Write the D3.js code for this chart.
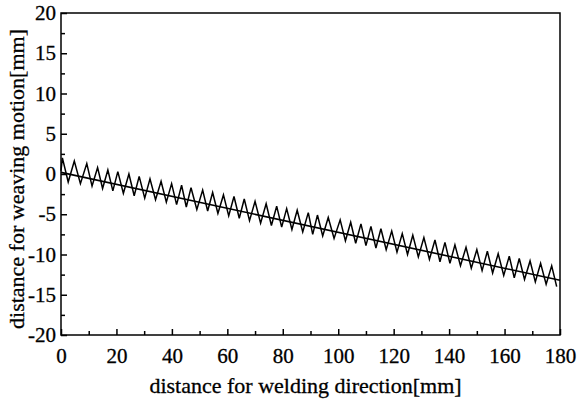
<!DOCTYPE html>
<html>
<head>
<meta charset="utf-8">
<script src="https://cdn.jsdelivr.net/npm/d3@7"></script>
<style>
  html, body { margin: 0; padding: 0; background: #fff; }
  svg { display: block; font-family: "Liberation Serif", "DejaVu Serif", serif; }
</style>
</head>
<body>
<div id="chart"></div>
<script>
"use strict";

// straight reference line (welding direction)
const lineX = [0, 180];
const lineY = [0.2, -13.2];

// weaving zigzag, peaks and troughs (mm)
const peakX = [0.5, 4.8, 9.3, 13.2, 16.9, 20.5, 24.5, 28.2, 32.1, 36.1, 39.9, 43.5, 46.9, 51.1, 54.7, 58.6,
  62.4, 66.1, 70.0, 74.0, 77.8, 81.4, 85.2, 89.2, 92.5, 96.4, 100.7, 104.5, 108.2, 111.8, 115.4, 119.3,
  123.1, 126.9, 130.9, 134.9, 138.5, 142.1, 146.1, 150.0, 153.8, 157.7, 161.7, 165.3, 169.2, 173.0, 177.0];
const peakY = [2.0, 1.6, 1.3, 0.8, 0.5, 0.3, 0.0, -0.3, -0.6, -0.9, -1.2, -1.4, -1.7, -2.0, -2.3, -2.6,
  -2.8, -3.1, -3.4, -3.7, -4.0, -4.3, -4.5, -4.8, -5.1, -5.4, -5.7, -6.0, -6.2, -6.5, -6.8, -7.1,
  -7.4, -7.6, -7.9, -8.2, -8.5, -8.8, -9.1, -9.4, -9.6, -9.9, -10.2, -10.5, -10.8, -11.1, -11.4];
const troughX = [2.6, 7.0, 11.2, 15.0, 18.7, 22.5, 26.4, 30.2, 34.1, 38.0, 41.7, 45.2, 49.0, 52.9, 56.6, 60.5,
  64.3, 68.0, 72.0, 75.9, 79.6, 83.3, 87.2, 90.8, 94.4, 98.5, 102.6, 106.3, 110.0, 113.6, 117.3, 121.2,
  125.0, 128.9, 132.9, 136.7, 140.3, 144.1, 148.0, 151.9, 155.7, 159.7, 163.5, 167.2, 171.1, 175.0, 178.8];
const troughY = [-1.0, -1.2, -1.5, -1.8, -2.1, -2.4, -2.7, -3.0, -3.2, -3.5, -3.8, -4.1, -4.4, -4.6, -4.9, -5.2,
  -5.5, -5.8, -6.1, -6.4, -6.6, -6.9, -7.2, -7.5, -7.7, -8.0, -8.3, -8.6, -8.9, -9.2, -9.4, -9.7,
  -10.0, -10.3, -10.6, -10.9, -11.1, -11.4, -11.7, -12.0, -12.3, -12.6, -12.9, -13.1, -13.4, -13.7, -14.0];
const weaveStart = [0, 0.4];

const xTicks = [0, 20, 40, 60, 80, 100, 120, 140, 160, 180];
const xMinor = [10, 30, 50, 70, 90, 110, 130, 150, 170];
const yTicks = [-20, -15, -10, -5, 0, 5, 10, 15, 20];
const yMinor = [-17.5, -12.5, -7.5, -2.5, 2.5, 7.5, 12.5, 17.5];

const width = 578, height = 406;
const margin = { top: 13, right: 18, bottom: 71, left: 61 };

const svg = d3.select("#chart").append("svg")
  .attr("width", width)
  .attr("height", height);

const x = d3.scaleLinear().domain([0, 180]).range([margin.left, width - margin.right]);
const y = d3.scaleLinear().domain([-20, 20]).range([height - margin.bottom, margin.top]);

// build zigzag vertices: start, then peak/trough alternately
const weave = [weaveStart];
for (let i = 0; i < peakX.length; i++) {
  weave.push([peakX[i], peakY[i]]);
  weave.push([troughX[i], troughY[i]]);
}

const line = d3.line().x(d => x(d[0])).y(d => y(d[1]));

svg.append("path")
  .datum(weave)
  .attr("fill", "none")
  .attr("stroke", "#000")
  .attr("stroke-width", 1.5)
  .attr("d", line);

svg.append("path")
  .datum(lineX.map((v, i) => [v, lineY[i]]))
  .attr("fill", "none")
  .attr("stroke", "#000")
  .attr("stroke-width", 1.6)
  .attr("d", line);

// axes, ticks pointing inward
const x0 = margin.left, x1 = width - margin.right;
const y0 = height - margin.bottom, y1 = margin.top;
const fmt = d => String(d); // plain hyphen minus like the original

svg.append("g").attr("transform", `translate(0,${y0})`)
  .call(d3.axisBottom(x).tickValues(xTicks).tickSize(-6).tickPadding(13).tickFormat(fmt));
svg.append("g").attr("transform", `translate(0,${y0})`)
  .call(d3.axisBottom(x).tickValues(xMinor).tickSize(-4).tickFormat(""));

svg.append("g").attr("transform", `translate(${x0},0)`)
  .call(d3.axisLeft(y).tickValues(yTicks).tickSize(-6).tickPadding(5).tickFormat(fmt));
svg.append("g").attr("transform", `translate(${x0},0)`)
  .call(d3.axisLeft(y).tickValues(yMinor).tickSize(-4).tickFormat(""));

svg.selectAll(".domain").remove();
svg.selectAll(".tick line").attr("stroke", "#000").attr("stroke-width", 1.5);
svg.selectAll(".tick text")
  .attr("fill", "#000")
  .attr("stroke", "#000")
  .attr("stroke-width", 0.3)
  .style("font-family", "'Liberation Serif', serif")
  .style("font-size", "21px");

// frame
svg.append("rect")
  .attr("x", x0).attr("y", y1)
  .attr("width", x1 - x0).attr("height", y0 - y1)
  .attr("fill", "none")
  .attr("stroke", "#000")
  .attr("stroke-width", 1.5);

// axis titles
svg.append("text")
  .attr("x", (x0 + x1) / 2 - 5)
  .attr("y", 393)
  .attr("text-anchor", "middle")
  .attr("stroke", "#000")
  .attr("stroke-width", 0.3)
  .style("font-size", "22px")
  .text("distance for welding direction[mm]");

svg.append("text")
  .attr("transform", `translate(24,${(y0 + y1) / 2 + 5}) rotate(-90)`)
  .attr("text-anchor", "middle")
  .attr("stroke", "#000")
  .attr("stroke-width", 0.3)
  .style("font-size", "22px")
  .text("distance for weaving motion[mm]");
</script>
</body>
</html>
